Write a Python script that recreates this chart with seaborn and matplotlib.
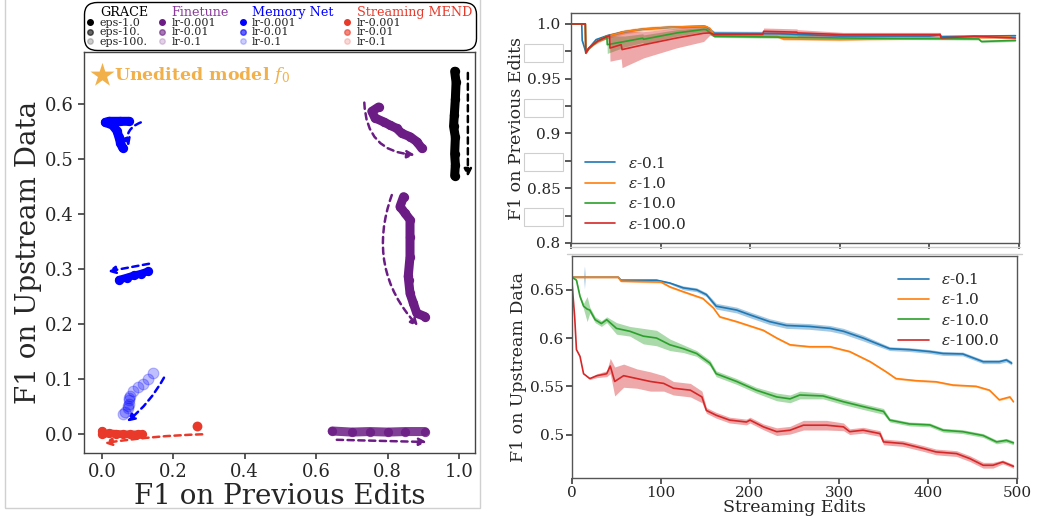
import numpy as np
import pandas as pd
import matplotlib.pyplot as plt
import seaborn as sns
from matplotlib.lines import Line2D
from matplotlib.patches import Rectangle

sns.set_theme(style="white")
plt.rcParams['font.family'] = ['DejaVu Serif']
plt.rcParams['mathtext.fontset'] = 'dejavuserif'

# ---------------- left panel: trajectories (F1 prev edits, F1 upstream)
grace_x = [0.988, 0.992, 0.990, 0.987, 0.985, 0.990, 0.988, 0.990, 0.988]
grace_y = [0.660, 0.640, 0.610, 0.580, 0.560, 0.540, 0.510, 0.490, 0.470]

ft1_x = [0.775, 0.756, 0.765, 0.789, 0.807, 0.826, 0.840, 0.863, 0.882, 0.896]
ft1_y = [0.595, 0.587, 0.575, 0.568, 0.562, 0.556, 0.547, 0.541, 0.532, 0.520]
ft2_x = [0.845, 0.835, 0.849, 0.863, 0.863, 0.863, 0.858, 0.859, 0.863, 0.872, 0.882, 0.905]
ft2_y = [0.432, 0.414, 0.402, 0.390, 0.359, 0.323, 0.287, 0.281, 0.256, 0.239, 0.220, 0.214]
ft3_x = [0.645, 0.700, 0.750, 0.800, 0.850, 0.905]
ft3_y = [0.006, 0.004, 0.005, 0.004, 0.005, 0.005]

mn1_x = [0.075, 0.050, 0.020, 0.010, 0.030, 0.042, 0.048, 0.052, 0.058]
mn1_y = [0.569, 0.569, 0.569, 0.567, 0.562, 0.552, 0.540, 0.530, 0.521]
mn2_x = [0.048, 0.070, 0.090, 0.110, 0.128]
mn2_y = [0.281, 0.285, 0.289, 0.292, 0.296]
mn3_x = [0.142, 0.128, 0.114, 0.100, 0.086, 0.079, 0.077, 0.076, 0.076, 0.074, 0.072, 0.064, 0.058]
mn3_y = [0.111, 0.100, 0.092, 0.086, 0.078, 0.070, 0.066, 0.062, 0.055, 0.051, 0.047, 0.041, 0.037]

mend_x = [0.000, 0.000, 0.020, 0.040, 0.060, 0.080, 0.100, 0.112]
mend_y = [0.006, 0.000, 0.002, 0.001, 0.000, 0.000, 0.000, 0.000]
mend_pt_x = [0.267]
mend_pt_y = [0.0157]

star_x = [0.0]
star_y = [0.653]

# ---------------- right bottom: F1 on upstream data vs streaming edits
up_b_x = [0, 13, 14, 15, 52, 55, 95, 110, 125, 140, 151, 162, 185, 200, 222, 241, 267, 290, 305, 327,
          357, 379, 402, 417, 439, 462, 480, 488, 494]
up_b_y = [0.663, 0.663, 0.663, 0.663, 0.663, 0.660, 0.660, 0.657, 0.652, 0.650, 0.645, 0.633, 0.629, 0.624,
          0.617, 0.613, 0.612, 0.610, 0.607, 0.600, 0.589, 0.588, 0.586, 0.584, 0.5835, 0.5755, 0.5755,
          0.5773, 0.574]
up_b_e = [0, 0, 0.012, 0, 0, 0.001, 0.001, 0.001, 0.002, 0.002, 0.002, 0.003, 0.003, 0.003, 0.003, 0.003,
          0.003, 0.003, 0.003, 0.003, 0.002, 0.002, 0.002, 0.002, 0.002, 0.002, 0.002, 0.002, 0.002]

up_o_x = [0, 52, 55, 100, 110, 125, 147, 159, 166, 185, 215, 230, 245, 267, 290, 312, 335, 353, 364, 387,
          409, 428, 454, 469, 480, 492, 496]
up_o_y = [0.663, 0.663, 0.659, 0.658, 0.653, 0.648, 0.641, 0.631, 0.622, 0.617, 0.608, 0.600, 0.593, 0.591,
          0.591, 0.586, 0.5755, 0.565, 0.558, 0.5558, 0.5547, 0.5513, 0.550, 0.546, 0.536, 0.539, 0.534]
up_o_e = [0.001] * 27

up_g_x = [0, 5, 9, 13, 17, 20, 26, 33, 39, 50, 65, 80, 95, 110, 125, 140, 155, 162, 185, 207,
          230, 245, 256, 282, 305, 327, 350, 357, 379, 402, 417, 439, 462, 477, 488, 496]
up_g_y = [0.663, 0.660, 0.643, 0.633, 0.630, 0.629, 0.619, 0.615, 0.619, 0.610, 0.607, 0.602, 0.600, 0.593,
          0.589, 0.584, 0.574, 0.563, 0.555, 0.546, 0.539, 0.537, 0.541, 0.540, 0.534, 0.529, 0.524, 0.515,
          0.511, 0.510, 0.5045, 0.503, 0.499, 0.4924, 0.494, 0.4914]
up_g_e = [0, 0.001, 0.002, 0.003, 0.013, 0.003, 0.003, 0.003, 0.003, 0.006, 0.005, 0.008, 0.008, 0.006,
          0.004, 0.003, 0.003, 0.003, 0.003, 0.003, 0.004, 0.004, 0.004, 0.003, 0.003, 0.003, 0.003, 0.002,
          0.002, 0.002, 0.002, 0.002, 0.002, 0.002, 0.002, 0.002]

up_r_x = [0, 3, 5, 9, 13, 20, 28, 39, 43, 48, 58, 73, 88, 103, 114, 133, 146, 151, 162, 177,
          196, 200, 215, 230, 245, 260, 286, 305, 312, 327, 346, 350, 372, 395, 409, 432, 447, 462, 473, 484, 496]
up_r_y = [0.657, 0.622, 0.588, 0.581, 0.563, 0.558, 0.561, 0.563, 0.571, 0.555, 0.561, 0.558, 0.555, 0.553,
          0.548, 0.546, 0.539, 0.525, 0.520, 0.515, 0.513, 0.515, 0.508, 0.503, 0.5045, 0.5097, 0.5097, 0.508,
          0.503, 0.5045, 0.501, 0.4924, 0.4907, 0.4855, 0.482, 0.4803, 0.4751, 0.4682, 0.4682, 0.4716, 0.4671]
up_r_e = [0, 0, 0, 0, 0, 0.001, 0.002, 0.003, 0.008, 0.015, 0.012, 0.010, 0.010, 0.008, 0.007, 0.007, 0.006,
          0.003, 0.003, 0.003, 0.003, 0.003, 0.003, 0.004, 0.004, 0.005, 0.005, 0.004, 0.003, 0.003, 0.003,
          0.003, 0.003, 0.003, 0.003, 0.003, 0.003, 0.003, 0.003, 0.002, 0.002]

# ---------------- right top: F1 on previous edits vs streaming edits
pv_b_x = [0, 12, 12.5, 16.5, 20, 28, 40, 60, 81, 110, 148, 151, 160, 230, 300, 400, 412, 413, 496]
pv_b_y = [1.0, 1.0, 0.985, 0.9745, 0.978, 0.9857, 0.9892, 0.993, 0.9954, 0.997, 0.998, 0.9975, 0.9915,
          0.9912, 0.9890, 0.9890, 0.9903, 0.9885, 0.9893]
pv_b_e = [0, 0, 0.001, 0.001, 0.001, 0.001, 0.001, 0.001, 0.001, 0.001, 0.001, 0.001, 0.002, 0.002, 0.001,
          0.001, 0.001, 0.001, 0.001]

pv_o_x = [0, 16, 16.5, 20, 25, 30, 40, 60, 81, 110, 148, 151, 155, 160, 230, 237, 300, 400, 490]
pv_o_y = [1.0, 1.0, 0.9735, 0.978, 0.9815, 0.9845, 0.9887, 0.993, 0.9954, 0.997, 0.998, 0.9975, 0.996,
          0.9897, 0.9887, 0.9863, 0.9857, 0.987, 0.9881]
pv_o_e = [0, 0, 0.001, 0.001, 0.001, 0.002, 0.002, 0.002, 0.002, 0.002, 0.001, 0.001, 0.001, 0.001, 0.001,
          0.001, 0.001, 0.001, 0.001]

pv_g_x = [0, 16, 16.5, 20, 25, 30, 40, 40.5, 60, 80, 81, 118, 148, 151, 160, 230, 300, 400, 455, 458, 496]
pv_g_y = [1.0, 1.0, 0.9735, 0.978, 0.9815, 0.9845, 0.9887, 0.9811, 0.984, 0.987, 0.986, 0.9918, 0.995,
          0.9948, 0.9887, 0.988, 0.9872, 0.9866, 0.9863, 0.984, 0.985]
pv_g_e = [0, 0, 0.001, 0.001, 0.001, 0.001, 0.002, 0.008, 0.005, 0.004, 0.004, 0.003, 0.002, 0.002, 0.001,
          0.001, 0.001, 0.001, 0.001, 0.001, 0.001]

pv_r_x = [0, 16, 16.5, 20, 25, 30, 43, 43.5, 56, 57, 81, 118, 148, 155, 160, 214, 215, 252, 253, 304, 412,
          413, 450, 496]
pv_r_y = [1.0, 1.0, 0.9735, 0.978, 0.9815, 0.9845, 0.9895, 0.978, 0.9811, 0.9766, 0.981, 0.9872, 0.9915,
          0.9918, 0.9903, 0.9905, 0.9933, 0.9925, 0.9918, 0.9903, 0.9903, 0.9872, 0.9887, 0.9872]
pv_r_e = [0, 0, 0.001, 0.001, 0.001, 0.001, 0.002, 0.012, 0.013, 0.0165, 0.012, 0.009, 0.0075, 0.002,
          0.002, 0.002, 0.003, 0.003, 0.003, 0.002, 0.002, 0.001, 0.001, 0.001]

eps_labels = ['$\\varepsilon$-0.1', '$\\varepsilon$-1.0', '$\\varepsilon$-10.0', '$\\varepsilon$-100.0']
eps_colors = ['tab:blue', 'tab:orange', 'tab:green', 'tab:red']

purple = '#6b1d85'
red = '#e8392a'
gold = '#F2B04A'

fig = plt.figure(figsize=(10.6, 5.18), dpi=100)

# left panel frame
fig.add_artist(Rectangle((5 / 1060, 1 - 508 / 518), 475 / 1060, 0.99, transform=fig.transFigure,
                         fill=False, edgecolor='#d0d0d0', lw=1))

ax = fig.add_axes([84 / 1060, 1 - 453 / 518, 391 / 1060, 401 / 518])


def traj(x, y, color, lw=6.5, alpha=1.0, s=45):
    sns.lineplot(x=x, y=y, sort=False, estimator=None, color=color, lw=lw, alpha=alpha,
                 solid_capstyle='round', solid_joinstyle='round', ax=ax)
    sns.scatterplot(x=x, y=y, color=color, s=s, alpha=alpha, linewidth=0, ax=ax)


def arrow(x0, y0, x1, y1, color, rad=0.0):
    ax.annotate('', xy=(x1, y1), xytext=(x0, y0),
                arrowprops=dict(arrowstyle='-|>', color=color, lw=1.8, linestyle=(0, (2.5, 1.8)),
                                connectionstyle=f'arc3,rad={rad}', shrinkA=0, shrinkB=0,
                                mutation_scale=11))


traj(grace_x, grace_y, 'black', lw=6.5)
traj(ft1_x, ft1_y, purple)
traj(ft2_x, ft2_y, purple)
traj(ft3_x, ft3_y, purple, alpha=0.85)
traj(mn1_x, mn1_y, 'blue')
traj(mn2_x, mn2_y, 'blue', lw=5.5)
sns.scatterplot(x=mn3_x, y=mn3_y, color='blue', s=60, alpha=0.25, edgecolor='blue', linewidth=0.8, ax=ax)
traj(mend_x, mend_y, red, lw=5.5)
sns.scatterplot(x=mend_pt_x, y=mend_pt_y, color=red, s=50, linewidth=0, ax=ax)

arrow(1.025, 0.657, 1.025, 0.468, 'black')
arrow(0.735, 0.603, 0.877, 0.508, purple, rad=0.45)
arrow(0.812, 0.435, 0.886, 0.196, purple, rad=0.3)
arrow(0.658, -0.010, 0.910, -0.014, purple)
arrow(0.109, 0.567, 0.076, 0.523, 'blue', rad=0.45)
arrow(0.132, 0.310, 0.016, 0.296, 'blue')
arrow(0.174, 0.103, 0.070, 0.023, 'blue', rad=-0.1)
arrow(0.281, 0.000, 0.006, -0.016, red, rad=0.03)

sns.scatterplot(x=star_x, y=star_y, marker='*', s=330, color=gold, linewidth=0, ax=ax)
ax.text(0.033, star_y[0], 'Unedited model $f_0$', color=gold, fontsize=12.5, fontweight='bold',
        va='center', ha='left')

ax.set_xlim(-0.05, 1.045)
ax.set_ylim(-0.034, 0.695)
ax.set_xticks([0, 0.2, 0.4, 0.6, 0.8, 1.0])
ax.set_yticks([0, 0.1, 0.2, 0.3, 0.4, 0.5, 0.6])
ax.tick_params(labelsize=13, length=4, color='#444444', bottom=True, left=True)
ax.set_xlabel('F1 on Previous Edits', fontsize=20, labelpad=1)
ax.set_ylabel('F1 on Upstream Data', fontsize=20, labelpad=2)
for sp in ax.spines.values():
    sp.set_color('#444444')
    sp.set_linewidth(1.0)

# legend at the top of the left panel
groups = [('GRACE', 'black', ['eps-1.0', 'eps-10.', 'eps-100.']),
          ('Finetune', '#8a3a9c', ['lr-0.001', 'lr-0.01', 'lr-0.1']),
          ('Memory Net', 'blue', ['lr-0.001', 'lr-0.01', 'lr-0.1']),
          ('Streaming MEND', red, ['lr-0.001', 'lr-0.01', 'lr-0.1'])]
dot_colors = ['black', purple, 'blue', red]
alphas = [1.0, 0.6, 0.2]
handles, labels, title_idx = [], [], []
for (title, tcol, labs), dc in zip(groups, dot_colors):
    title_idx.append((len(labels), tcol))
    handles.append(Line2D([], [], ls='none', marker=''))
    labels.append(title)
    for lab, a in zip(labs, alphas):
        handles.append(Line2D([], [], ls='none', marker='o', color=dc, alpha=a, ms=4))
        labels.append(lab)
leg = fig.legend(handles, labels, ncol=4, loc='upper center', bbox_to_anchor=(280 / 1060, 1.0),
                 frameon=True, fancybox=True, edgecolor='black', facecolor='white', framealpha=1,
                 fontsize=8, handlelength=0.5, handletextpad=0.6, labelspacing=-0.05,
                 columnspacing=1.0, borderpad=0.3, borderaxespad=0.2)
leg.get_frame().set_boxstyle('round,pad=0,rounding_size=1.1')
leg.get_frame().set_linewidth(1.0)
texts = leg.get_texts()
for i, tcol in title_idx:
    texts[i].set_color(tcol)
    texts[i].set_fontsize(9.2)


# ---------------- right panels
def band_line(axr, x, y, e, color, label):
    sns.lineplot(x=x, y=y, color=color, lw=1.2, label=label, estimator=None, sort=False, ax=axr)
    lo = [a - b for a, b in zip(y, e)]
    hi = [a + b for a, b in zip(y, e)]
    axr.fill_between(x, lo, hi, color=color, alpha=0.4, lw=0)


ax_top = fig.add_axes([571 / 1060, 1 - 243 / 518, 448 / 1060, 230 / 518])
for (x, y, e), c, lab in zip([(pv_b_x, pv_b_y, pv_b_e), (pv_o_x, pv_o_y, pv_o_e),
                              (pv_g_x, pv_g_y, pv_g_e), (pv_r_x, pv_r_y, pv_r_e)],
                             eps_colors, eps_labels):
    band_line(ax_top, x, y, e, c, lab)
ax_top.set_xlim(0, 500)
ax_top.set_ylim(0.8, 1.01)
ax_top.set_xticks([0, 100, 200, 300, 400, 500])
ax_top.set_xticklabels([])
yt = [0.8, 0.825, 0.85, 0.875, 0.9, 0.925, 0.95, 0.975, 1.0]
ax_top.set_yticks(yt)
ax_top.set_yticklabels(['0.8', '0.000', '0.85', '0.000', '0.9', '0.000', '0.95', '0.000', '1.0'])
ax_top.tick_params(labelsize=11, length=4, color='#444444', bottom=True, left=True)
for i, lab in enumerate(ax_top.get_yticklabels()):
    if i % 2 == 1:
        lab.set_color('white')
        lab.set_fontsize(8.5)
        lab.set_bbox(dict(facecolor='white', edgecolor='#cfcfcf', lw=0.8, pad=1.8))
ax_top.set_ylabel('F1 on Previous Edits', fontsize=12.5, labelpad=1)
ax_top.set_xlabel('')
ax_top.legend(loc='lower left', frameon=False, fontsize=11, handlelength=2.0,
              bbox_to_anchor=(0.0, -0.01), labelspacing=0.35)

ax_bot = fig.add_axes([572 / 1060, 1 - 478 / 518, 445 / 1060, 222 / 518])
for (x, y, e), c, lab in zip([(up_b_x, up_b_y, up_b_e), (up_o_x, up_o_y, up_o_e),
                              (up_g_x, up_g_y, up_g_e), (up_r_x, up_r_y, up_r_e)],
                             eps_colors, eps_labels):
    band_line(ax_bot, x, y, e, c, lab)
ax_bot.set_xlim(0, 500)
ax_bot.set_ylim(0.455, 0.685)
ax_bot.set_xticks([0, 100, 200, 300, 400, 500])
ax_bot.set_yticks([0.5, 0.55, 0.6, 0.65])
ax_bot.set_yticklabels(['0.5', '0.55', '0.6', '0.65'])
ax_bot.tick_params(labelsize=11, length=4, pad=2, color='#444444', bottom=True, left=True)
ax_bot.set_xlabel('Streaming Edits', fontsize=12.5, labelpad=-1)
ax_bot.set_ylabel('F1 on Upstream Data', fontsize=12.5, labelpad=2)
ax_bot.legend(loc='upper right', frameon=False, fontsize=11, handlelength=2.0,
              bbox_to_anchor=(0.99, 0.99), labelspacing=0.35)

for a in (ax_top, ax_bot):
    for sp in a.spines.values():
        sp.set_color('#555555')
        sp.set_linewidth(1.0)

# thin grey separators between the two right panels
for yy, x0, x1 in [(247, 570, 1020), (254, 567, 1022)]:
    fig.add_artist(Line2D([x0 / 1060, x1 / 1060], [1 - yy / 518] * 2, transform=fig.transFigure,
                          color='#cccccc', lw=1))

fig.savefig('out.png', dpi=100)
